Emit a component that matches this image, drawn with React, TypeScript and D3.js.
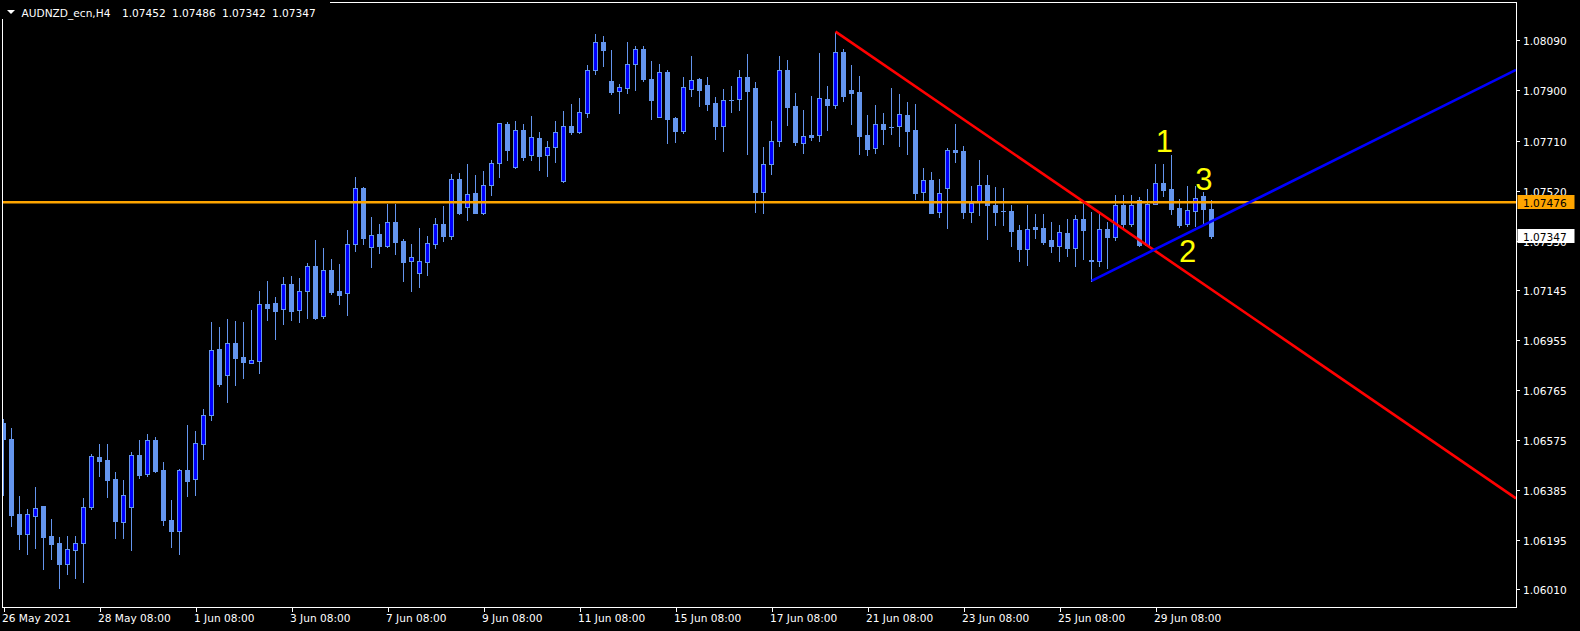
import React from "react";
import * as d3 from "d3";

// ---- Data (H4 candles, AUDNZD_ecn) ----
const OPEN = [
  1.0664, 1.06579, 1.06295, 1.06218, 1.06286, 1.06323, 1.06212, 1.06185, 1.06104, 1.06157,
  1.06184, 1.0632, 1.06511, 1.065, 1.06428, 1.06263, 1.0632, 1.06519, 1.06445, 1.06574,
  1.06462, 1.06272, 1.06229, 1.06462, 1.06426, 1.06559, 1.06669, 1.0692, 1.06823, 1.06942,
  1.0689, 1.06868, 1.06876, 1.0709, 1.07095, 1.07071, 1.07167, 1.07067, 1.07139, 1.07234,
  1.07043, 1.07219, 1.0714, 1.07131, 1.07317, 1.07529, 1.07306, 1.07355, 1.0731, 1.074,
  1.07328, 1.07253, 1.07206, 1.07251, 1.07319, 1.07394, 1.0735, 1.07565, 1.07457, 1.07512,
  1.07437, 1.07541, 1.07624, 1.07773, 1.07611, 1.0775, 1.07654, 1.0772, 1.07654, 1.07685,
  1.07556, 1.07765, 1.07744, 1.07816, 1.07979, 1.08084, 1.07936, 1.07897, 1.07911, 1.07999,
  1.08057, 1.07944, 1.07801, 1.0797, 1.07796, 1.07748, 1.07907, 1.07942, 1.0792, 1.07853,
  1.07767, 1.07863, 1.07867, 1.0795, 1.07908, 1.07516, 1.0762, 1.07707, 1.07977, 1.0784,
  1.077, 1.07731, 1.0773, 1.07868, 1.07846, 1.08045, 1.07901, 1.07893, 1.07731, 1.07681,
  1.07772, 1.07761, 1.07764, 1.07807, 1.07749, 1.07514, 1.07561, 1.07438, 1.07529, 1.07675,
  1.07671, 1.07441, 1.07476, 1.07541, 1.07466, 1.07443, 1.07443, 1.0737, 1.073, 1.07384,
  1.07379, 1.07333, 1.07312, 1.0736, 1.07304, 1.07412, 1.07254, 1.07255, 1.07374, 1.07344,
  1.07466, 1.07395, 1.07485, 1.07314, 1.0747, 1.07548, 1.07526, 1.07454, 1.07395, 1.07444,
  1.075, 1.07452,
];
const HIGH = [
  1.06655, 1.06621, 1.06363, 1.06314, 1.06397, 1.06325, 1.06276, 1.06208, 1.06212, 1.06212,
  1.06356, 1.06522, 1.0656, 1.0656, 1.06454, 1.06424, 1.0653, 1.06575, 1.06598, 1.06587,
  1.06492, 1.06348, 1.06463, 1.06632, 1.0661, 1.06693, 1.07023, 1.07004, 1.07034, 1.07026,
  1.07023, 1.07068, 1.0714, 1.07178, 1.07117, 1.07193, 1.07197, 1.07189, 1.07244, 1.07333,
  1.07303, 1.07261, 1.07242, 1.07371, 1.07572, 1.07534, 1.07421, 1.07393, 1.07471, 1.0747,
  1.07337, 1.07317, 1.07379, 1.07347, 1.07417, 1.07462, 1.07584, 1.07587, 1.07621, 1.0758,
  1.07595, 1.07637, 1.07777, 1.07781, 1.07784, 1.07773, 1.07803, 1.07743, 1.0771, 1.07784,
  1.07822, 1.07849, 1.07872, 1.07997, 1.08114, 1.08107, 1.08054, 1.07925, 1.08084, 1.08069,
  1.08069, 1.08012, 1.08, 1.07978, 1.07801, 1.07951, 1.08031, 1.07947, 1.07951, 1.07875,
  1.07906, 1.07917, 1.07978, 1.08038, 1.07932, 1.07686, 1.07784, 1.08031, 1.08016, 1.07891,
  1.07826, 1.07879, 1.08042, 1.07917, 1.08123, 1.08057, 1.07997, 1.07955, 1.07807, 1.07845,
  1.07814, 1.07909, 1.07887, 1.07855, 1.07849, 1.07605, 1.07591, 1.07565, 1.07682, 1.07773,
  1.0769, 1.07538, 1.07637, 1.0758, 1.07534, 1.07529, 1.07466, 1.0739, 1.07466, 1.07432,
  1.07431, 1.07403, 1.0739, 1.07413, 1.07426, 1.0747, 1.07441, 1.0744, 1.074, 1.07504,
  1.07504, 1.07502, 1.07496, 1.07526, 1.07621, 1.07621, 1.07656, 1.07488, 1.07538, 1.07538,
  1.07515, 1.07486,
];
const LOW = [
  1.06367, 1.06247, 1.06162, 1.06144, 1.06167, 1.06084, 1.06122, 1.06014, 1.06065, 1.0605,
  1.06038, 1.06314, 1.06439, 1.06359, 1.06204, 1.06204, 1.06156, 1.06431, 1.0644, 1.06454,
  1.06254, 1.06171, 1.06141, 1.06361, 1.06367, 1.06501, 1.06652, 1.06781, 1.06717, 1.06785,
  1.06808, 1.06866, 1.06827, 1.07031, 1.06956, 1.07016, 1.07031, 1.07024, 1.07039, 1.07035,
  1.07039, 1.0713, 1.07092, 1.0705, 1.07293, 1.07319, 1.07232, 1.07285, 1.07308, 1.07281,
  1.07179, 1.07141, 1.07153, 1.07202, 1.07304, 1.07331, 1.07338, 1.07432, 1.07407, 1.07435,
  1.07433, 1.07505, 1.07573, 1.07638, 1.07607, 1.07638, 1.07638, 1.076, 1.07577, 1.0763,
  1.07554, 1.07735, 1.07738, 1.07801, 1.07964, 1.07994, 1.07888, 1.07816, 1.07892, 1.07903,
  1.07937, 1.07793, 1.07799, 1.07702, 1.07706, 1.0774, 1.0788, 1.07842, 1.07827, 1.07717,
  1.07672, 1.0782, 1.07827, 1.0766, 1.07441, 1.07437, 1.07585, 1.07691, 1.0777, 1.07695,
  1.07664, 1.07712, 1.0771, 1.07751, 1.07835, 1.07861, 1.07774, 1.0766, 1.07657, 1.07664,
  1.07698, 1.07736, 1.07691, 1.0766, 1.0749, 1.07481, 1.07435, 1.07422, 1.0738, 1.0763,
  1.07418, 1.07403, 1.07428, 1.07335, 1.07391, 1.0739, 1.07312, 1.07254, 1.07239, 1.0734,
  1.07317, 1.07287, 1.07255, 1.07274, 1.07233, 1.07261, 1.07178, 1.07236, 1.07225, 1.07333,
  1.07379, 1.07386, 1.07311, 1.07311, 1.07468, 1.07501, 1.07431, 1.07382, 1.07385, 1.07386,
  1.07394, 1.07342,
];
const CLOSE = [
  1.0658, 1.06292, 1.0622, 1.06294, 1.06318, 1.06209, 1.06182, 1.06103, 1.06161, 1.06184,
  1.06321, 1.06514, 1.06497, 1.06425, 1.06266, 1.06366, 1.06517, 1.06444, 1.06574, 1.06459,
  1.06271, 1.06228, 1.06461, 1.06421, 1.06563, 1.06669, 1.06915, 1.06788, 1.06942, 1.06884,
  1.06872, 1.06877, 1.0709, 1.07077, 1.07065, 1.07166, 1.07065, 1.07139, 1.07234, 1.07038,
  1.07219, 1.07137, 1.07126, 1.07317, 1.07529, 1.07342, 1.07351, 1.07312, 1.074, 1.07327,
  1.07251, 1.07268, 1.07253, 1.07321, 1.07393, 1.07349, 1.07563, 1.07436, 1.07507, 1.07437,
  1.07541, 1.07624, 1.07776, 1.07676, 1.07749, 1.07649, 1.07723, 1.07653, 1.07685, 1.07742,
  1.07764, 1.07744, 1.07817, 1.07977, 1.08083, 1.08055, 1.07895, 1.07912, 1.07999, 1.08056,
  1.07945, 1.07865, 1.0797, 1.07793, 1.07748, 1.07912, 1.07939, 1.07903, 1.0785, 1.07767,
  1.07863, 1.07862, 1.0795, 1.07899, 1.07516, 1.0762, 1.07707, 1.07977, 1.07839, 1.07706,
  1.07726, 1.07725, 1.0787, 1.07846, 1.08045, 1.07877, 1.07892, 1.07729, 1.07679, 1.07772,
  1.07755, 1.0776, 1.0781, 1.07748, 1.07513, 1.0756, 1.07437, 1.0751, 1.07673, 1.07668,
  1.07441, 1.07475, 1.07541, 1.07465, 1.07441, 1.07442, 1.07368, 1.073, 1.07374, 1.07374,
  1.07327, 1.07312, 1.07363, 1.07304, 1.07412, 1.07369, 1.07257, 1.07374, 1.07346, 1.07466,
  1.07394, 1.07466, 1.07314, 1.0747, 1.07548, 1.07523, 1.07451, 1.0739, 1.07447, 1.07491,
  1.07451, 1.07347,
];

const PRICE_TICKS = [1.0809, 1.079, 1.0771, 1.0752, 1.0733, 1.07145, 1.06955, 1.06765, 1.06575, 1.06385, 1.06195, 1.0601];
const TIME_IDX = [0, 12, 24, 36, 48, 60, 72, 84, 96, 108, 120, 132, 144];
const TIME_LABELS = [
  "26 May 2021", "28 May 08:00", "1 Jun 08:00", "3 Jun 08:00", "7 Jun 08:00", "9 Jun 08:00",
  "11 Jun 08:00", "15 Jun 08:00", "17 Jun 08:00", "21 Jun 08:00", "23 Jun 08:00", "25 Jun 08:00", "29 Jun 08:00",
];
const H_LEVEL = 1.07476;
const LAST_PRICE = 1.07347;
const TITLE_SYMBOL = "AUDNZD_ecn,H4";
const TITLE_VALUES = ["1.07452", "1.07486", "1.07342", "1.07347"];
const RED_ANCHORS: [number, number][] = [[104, 1.08123], [150, 1.07166]];
const BLUE_ANCHORS: [number, number][] = [[136, 1.07178], [150, 1.07389]];
const WAVE_TEXT = ["1", "2", "3"];
const WAVE_IDX = [145.1, 148, 150.05];
const WAVE_PRICE = [1.07668, 1.07251, 1.07523];

const LIGHT = "#6495ED";
const DARK = "#0000FF";
const FONT = "'DejaVu Sans', Verdana, sans-serif";

export default function App() {
  const W = 1580, H = 631;
  const LEFT = 2, RIGHT = 1516, TOP = 2, BOTTOM = 607;
  const x = d3.scaleLinear().domain([0, 1]).range([3.5, 11.5]);
  const y = d3.scaleLinear().domain([1.0601, 1.0809]).range([589, 40.3]);
  const n = OPEN.length;

  const candles = d3.range(n).map((i) => {
    const o = OPEN[i], c = CLOSE[i];
    const bull = c > o;
    const cx = x(i);
    const yt = Math.round(y(Math.max(o, c)));
    const yb = Math.round(y(Math.min(o, c)));
    const yh = Math.round(y(HIGH[i]));
    const yl = Math.round(y(LOW[i]));
    const bh = Math.max(1, yb - yt + 1);
    return (
      <g key={i}>
        <rect x={cx - 0.5} y={yh} width={1} height={Math.max(1, yl - yh + 1)} fill={LIGHT} />
        <rect x={cx - 2.5} y={yt} width={5} height={bh} fill={LIGHT} />
        {bull && bh > 2 ? <rect x={cx - 1.5} y={yt + 1} width={3} height={bh - 2} fill={DARK} /> : null}
      </g>
    );
  });

  const trend = (a: [number, number][], color: string) => {
    const [[i1, p1], [i2, p2]] = a;
    const iEnd = x.invert(RIGHT);
    const pEnd = p1 + ((p2 - p1) / (i2 - i1)) * (iEnd - i1);
    return (
      <line x1={x(i1)} y1={y(p1)} x2={x(iEnd)} y2={y(pEnd)} stroke={color} strokeWidth={2.6} />
    );
  };

  const line = d3.line<[number, number]>().x((d) => d[0]).y((d) => d[1]);
  const hy = y(H_LEVEL);
  const ly = y(LAST_PRICE);

  return (
    <svg
      width={W}
      height={H}
      style={{ position: "absolute", left: 0, top: 0, background: "#000", display: "block" }}
    >
      <defs>
        <clipPath id="plot">
          <rect x={LEFT + 1} y={TOP + 1} width={RIGHT - LEFT - 1} height={BOTTOM - TOP - 1} />
        </clipPath>
      </defs>
      <rect x={0} y={0} width={W} height={H} fill="#000" />
      <g clipPath="url(#plot)" shapeRendering="crispEdges">
        {candles}
      </g>
      <g clipPath="url(#plot)">
        <line x1={LEFT} x2={RIGHT} y1={hy} y2={hy} stroke="#FFA500" strokeWidth={2.7} />
        {trend(RED_ANCHORS, "#FF0000")}
        {trend(BLUE_ANCHORS, "#0000FF")}
        {WAVE_TEXT.map((t, k) => (
          <text
            key={t}
            x={x(WAVE_IDX[k])}
            y={y(WAVE_PRICE[k])}
            textAnchor="middle"
            fontFamily="'Liberation Sans', Arial, sans-serif"
            fontSize={31}
            fill="#FFFF00"
          >
            {t}
          </text>
        ))}
      </g>
      {/* frame */}
      <path
        d={line([[LEFT + 0.5, TOP + 0.5], [RIGHT + 0.5, TOP + 0.5], [RIGHT + 0.5, BOTTOM + 0.5], [LEFT + 0.5, BOTTOM + 0.5], [LEFT + 0.5, TOP + 0.5]]) || ""}
        fill="none"
        stroke="#fff"
        strokeWidth={1}
        shapeRendering="crispEdges"
      />
      {/* price axis */}
      <g fontFamily={FONT} fontSize={10.6} fill="#fff">
        {PRICE_TICKS.map((p) => {
          const ty = Math.round(y(p)) + 0.5;
          return (
            <g key={p}>
              <line x1={RIGHT + 1} x2={RIGHT + 4} y1={ty} y2={ty} stroke="#fff" shapeRendering="crispEdges" />
              <text x={1523} y={ty + 4}>{p.toFixed(5)}</text>
            </g>
          );
        })}
      </g>
      <g fontFamily={FONT} fontSize={10.6}>
        <rect x={RIGHT + 1.5} y={Math.round(hy) - 7} width={57} height={14} fill="#FFA500" />
        <text x={1523} y={Math.round(hy) + 4.5} fill="#000">{H_LEVEL.toFixed(5)}</text>
        <rect x={RIGHT + 1.5} y={Math.round(ly) - 7} width={57} height={14} fill="#fff" />
        <text x={1523} y={Math.round(ly) + 4.5} fill="#000">{LAST_PRICE.toFixed(5)}</text>
      </g>
      {/* time axis */}
      <g fontFamily={FONT} fontSize={10.6} fill="#fff">
        {TIME_IDX.map((i, k) => {
          const tx = Math.round(x(i)) + 0.5;
          return (
            <g key={i}>
              <line x1={tx} x2={tx} y1={BOTTOM + 1} y2={BOTTOM + 5} stroke="#fff" shapeRendering="crispEdges" />
              <text x={x(i) - 1.5} y={621.5}>{TIME_LABELS[k]}</text>
            </g>
          );
        })}
      </g>
      {/* title */}
      <rect x={0} y={0} width={330} height={19} fill="#000" />
      <path d="M7,10 L15,10 L11,14 Z" fill="#fff" />
      <g fontFamily={FONT} fontSize={10.6} fill="#fff">
        <text x={21.5} y={16.7}>{TITLE_SYMBOL}</text>
        {TITLE_VALUES.map((v, k) => (
          <text key={k} x={122 + 50 * k} y={16.7}>{v}</text>
        ))}
      </g>
    </svg>
  );
}
